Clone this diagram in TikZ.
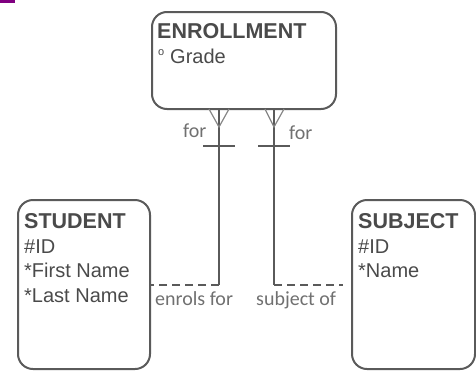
\documentclass[tikz,border=0pt]{standalone}
\usepackage{fontspec}
\setmainfont{Liberation Sans}
\newfontfamily\lblfont{Carlito}
\definecolor{boxline}{HTML}{5A5A5A}
\definecolor{txtdark}{HTML}{4A4A4A}
\definecolor{lblgray}{HTML}{707070}
\definecolor{forkgray}{HTML}{858585}
\definecolor{markpurple}{HTML}{800080}
\tikzset{
  entity/.style={draw=boxline, line width=2pt, rounded corners=15pt, anchor=north west, inner sep=0pt},
  ttl/.style={anchor=base west, inner sep=0pt, text=txtdark, font=\fontsize{21.5}{24}\selectfont\bfseries},
  attr/.style={anchor=base west, inner sep=0pt, text=txtdark, font=\fontsize{20}{24}\selectfont},
  rel/.style={anchor=base west, inner sep=0pt, text=lblgray, font=\lblfont\fontsize{20}{24}\selectfont},
  link/.style={draw=boxline, line width=2pt},
  dlink/.style={draw=boxline, line width=1.8pt, dash pattern=on 8pt off 5pt},
  fork/.style={draw=forkgray, line width=1.2pt},
  bar/.style={draw=boxline, line width=1.8pt}
}
\begin{document}
\begin{tikzpicture}[x=1pt,y=-1pt]
\useasboundingbox (0,0) rectangle (476,370);
\fill[markpurple] (0,0) rectangle (15,2.5);
% boxes
\node[entity, minimum width=184pt, minimum height=97pt] (enr) at (151,11) {};
\node[entity, minimum width=132pt, minimum height=169pt] (stu) at (17,199) {};
\node[entity, minimum width=123pt, minimum height=169pt] (sub) at (351,199) {};
% texts
\node[ttl] (t1) at (157,38) {ENROLLMENT};
\node[attr, font=\fontsize{11}{12}\selectfont] (t1o) at (158,55) {o};
\node[attr] (t1a) at (170,63) {Grade};
\node[ttl] (t2) at (24,228) {STUDENT};
\node[attr] (t2a) at (24,253) {\#ID};
\node[attr] (t2b) at (24,277) {*First Name};
\node[attr] (t2c) at (24,302) {*Last Name};
\node[ttl] (t3) at (358,228) {SUBJECT};
\node[attr] (t3a) at (358,253) {\#ID};
\node[attr] (t3b) at (358,277) {*Name};
% connectors
\coordinate (cl) at (219,285);
\coordinate (cr) at (274,285);
\draw[link] (enr.south -| cl) -- (cl);
\draw[dlink] (cl) -- (stu.east |- cl);
\draw[link] (enr.south -| cr) -- (cr);
\draw[dlink] (cr) -- (343,285) coordinate (crend);
% crow's feet
\coordinate (fl) at (219,127);
\coordinate (fr) at (274,127);
\draw[fork] (209,109) -- (fl) -- (229,109);
\draw[fork] (265,109) -- (fr) -- (284,109);
\draw[bar] (203,146) coordinate (bl1) -- (235,146) coordinate (bl2);
\draw[bar] (258,146) coordinate (br1) -- (290,146) coordinate (br2);
% labels
\node[rel] (l1) at (183,137) {for};
\node[rel] (l2) at (289,139) {for};
\node[rel] (l3) at (155,305) {enrols for};
\node[rel] (l4) at (256,305) {subject of};
\end{tikzpicture}
\end{document}
